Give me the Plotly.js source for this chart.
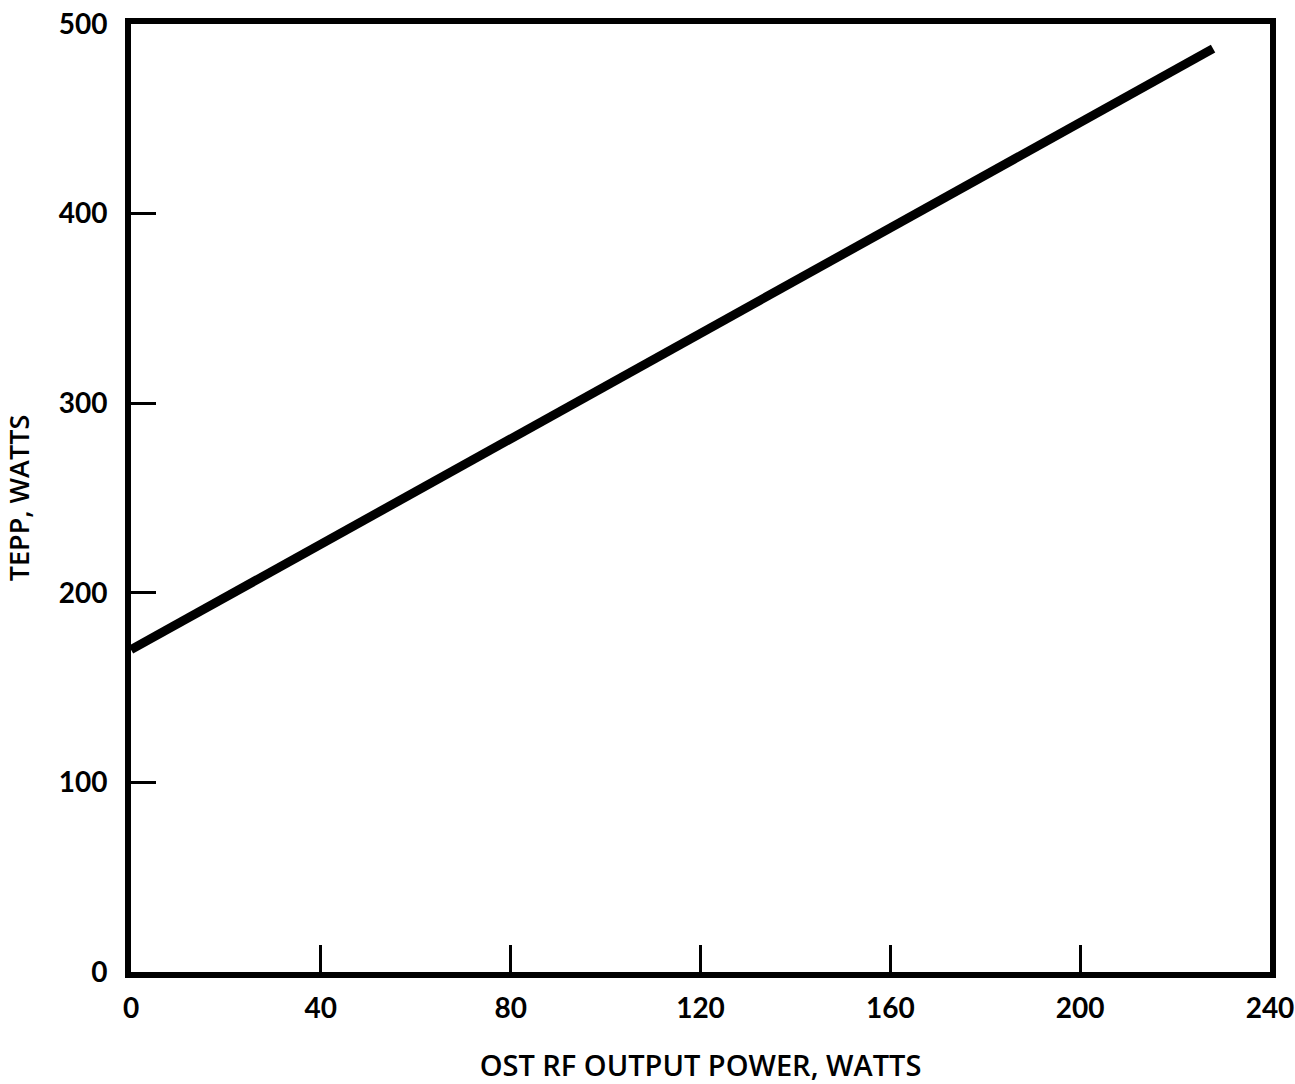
<!DOCTYPE html>
<html>
<head>
<meta charset="utf-8">
<script src="https://cdn.plot.ly/plotly-3.0.1.min.js"></script>
<style>html,body{margin:0;padding:0;background:#fff;}#chart{width:1295px;height:1084px;}</style>
</head>
<body>
<div id="chart"></div>
<script>
const rfPower = [0, 228];
const tepp = [170, 487];
const xTicks = [0, 40, 80, 120, 160, 200, 240];
const yTicks = [0, 100, 200, 300, 400, 500];

const fontFam = "Lato, 'Open Sans', sans-serif";

Plotly.newPlot('chart', [{
  x: rfPower, y: tepp, mode: 'lines', type: 'scatter',
  line: {color: '#000', width: 9}, hoverinfo: 'skip', showlegend: false
}], {
  width: 1295, height: 1084,
  margin: {l: 131, r: 25, t: 24, b: 112},
  paper_bgcolor: '#fff', plot_bgcolor: '#fff',
  font: {family: fontFam, color: '#000'},
  xaxis: {
    range: [0, 240], tickvals: xTicks, ticktext: xTicks.map(String),
    ticks: 'inside', ticklen: 27, tickwidth: 3, tickcolor: '#000',
    showline: true, linewidth: 6, linecolor: '#000', mirror: true,
    showgrid: false, zeroline: false,
    tickfont: {size: 28, family: fontFam, weight: 700},
    ticklabelstandoff: 6,
    title: {text: 'OST RF OUTPUT POWER, WATTS', font: {size: 29, family: "'Open Sans', Lato, sans-serif", weight: 600}, standoff: 36}
  },
  yaxis: {
    range: [0, 500], tickvals: yTicks, ticktext: yTicks.map(String),
    ticks: 'inside', ticklen: 25, tickwidth: 3, tickcolor: '#000',
    showline: true, linewidth: 6, linecolor: '#000', mirror: true,
    showgrid: false, zeroline: false,
    tickfont: {size: 28, family: fontFam, weight: 700},
    ticklabelstandoff: 12,
    title: {text: 'TEPP, WATTS', font: {size: 27, family: "'Open Sans', Lato, sans-serif", weight: 600}, standoff: 28}
  }
}, {staticPlot: true});
</script>
</body>
</html>
